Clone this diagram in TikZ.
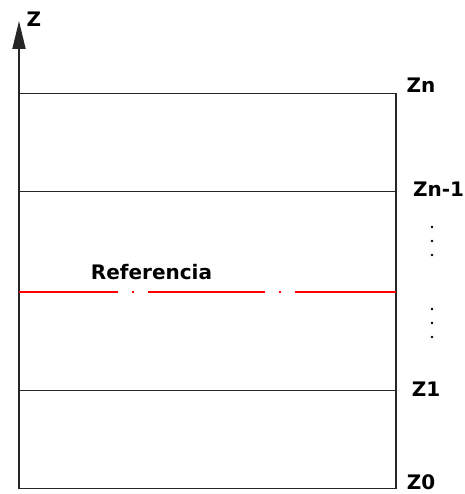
\documentclass[tikz,border=0pt]{standalone}
\usepackage{fontspec}
\setmainfont{DejaVu Sans}
\usetikzlibrary{arrows.meta}
\begin{document}
\begin{tikzpicture}[x=1pt,y=-1pt,
  lbl/.style={inner sep=0pt,font=\fontsize{20pt}{22pt}\selectfont\bfseries},
  level/.style={line width=1.8pt,black!85},
  refline/.style={line width=1.8pt,red,dash pattern=on 117pt off 14pt on 2pt off 14pt,dash phase=18pt},
  dotm/.style={circle,fill=black,inner sep=0pt,minimum size=2.6pt}]
\useasboundingbox[fill=white] (0,0) rectangle (464,494);
\coordinate (o) at (19,488.5);
\coordinate (top) at (19,21);
\coordinate (br) at (396,488.5);
\coordinate (tl) at (19,93.5);
\coordinate (tr) at (396,93.5);
\coordinate (a1) at (19,191.5);
\coordinate (a2) at (396,191.5);
\coordinate (r1) at (19,292);
\coordinate (r2) at (396,292);
\coordinate (b1) at (19,390.5);
\coordinate (b2) at (396,390.5);
% axis
\draw[level,-{Triangle[length=28pt,width=13pt]}] (o) -- (top);
% box
\draw[level] (o) -- (br) -- (tr) -- (tl);
\draw[level] (a1) -- (a2);
\draw[level] (b1) -- (b2);
\draw[refline] (r1) -- (r2);
% labels
\node[lbl] (z) at (34,19) {Z};
\node[lbl] (zn) at (421,85.5) {Zn};
\node[lbl] (zn1) at (438.5,189.5) {Zn-1};
\node[lbl] (z1) at (426,389.5) {Z1};
\node[lbl] (z0) at (421,482) {Z0};
\node[lbl] (ref) at (151.5,272.5) {Referencia};
% dots
\foreach \y in {227,241,255,309,323,337} \node[dotm] at (432,\y) {};
\end{tikzpicture}
\end{document}
